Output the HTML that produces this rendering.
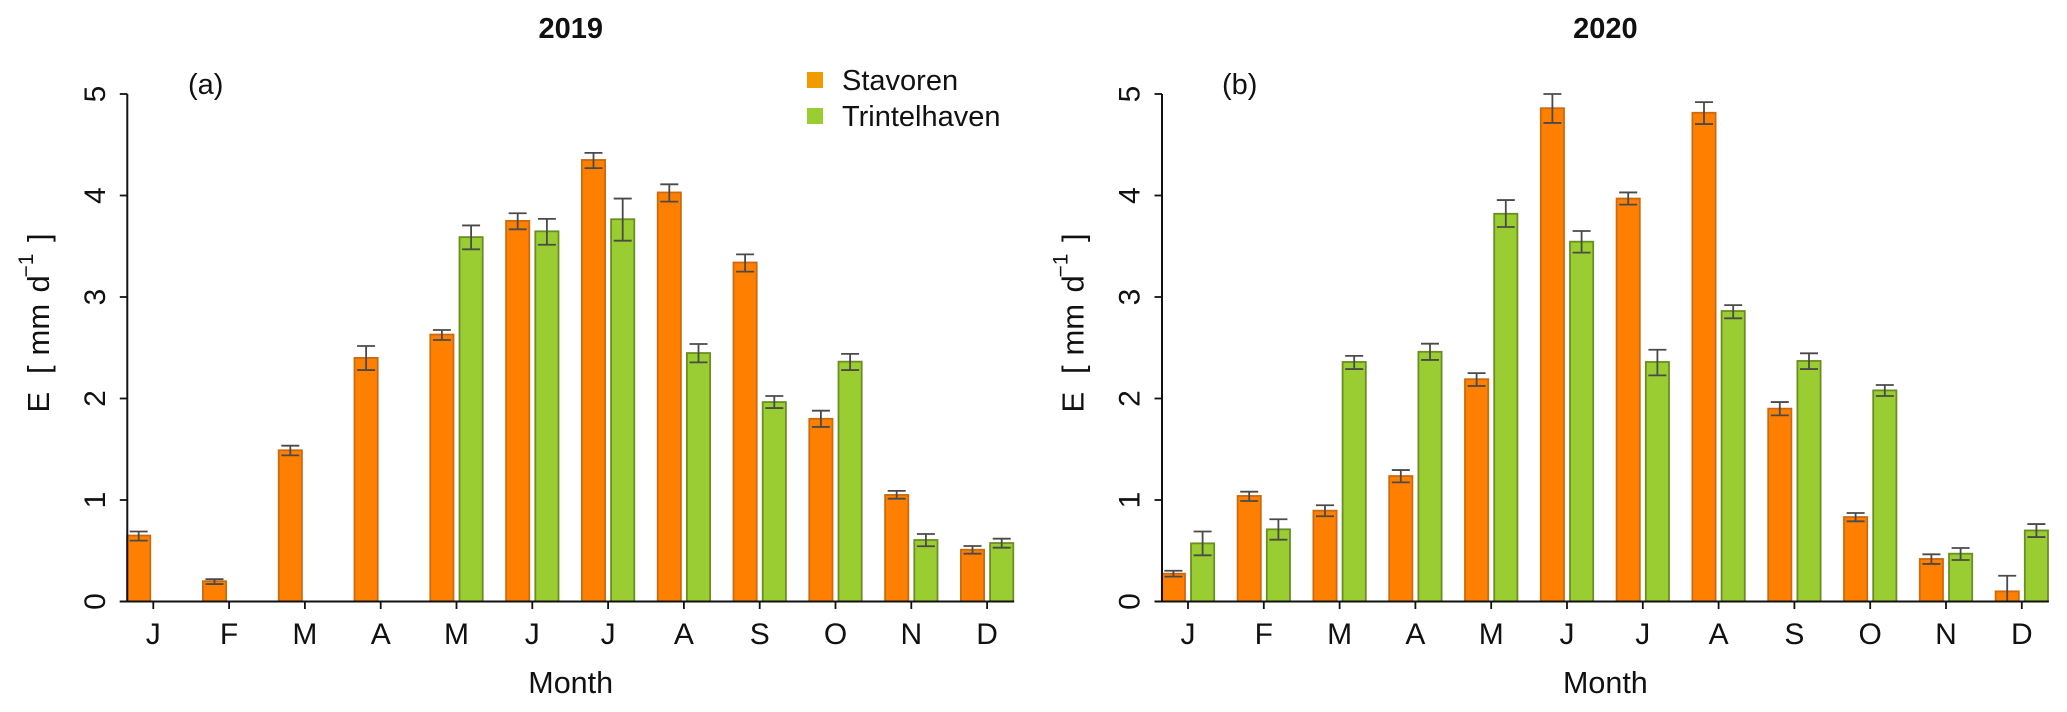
<!DOCTYPE html>
<html>
<head>
<meta charset="utf-8">
<title>Monthly evaporation 2019 and 2020</title>
<style>
html,body{margin:0;padding:0;background:#fff;}
svg{display:block;filter:blur(0.35px);}
text{font-family:"Liberation Sans",Arial,sans-serif;fill:#111;}
</style>
</head>
<body>
<svg id="chart" xmlns="http://www.w3.org/2000/svg" width="2067" height="712" viewBox="0 0 2067 712">
  <rect x="0" y="0" width="2067" height="712" fill="#fff"/>
  <g id="panel-a"></g>
  <g id="panel-b"></g>
  <g>
    <rect x="807" y="72" width="16" height="16" fill="#f29a00"/>
    <text x="842" y="90" font-size="29">Stavoren</text>
    <rect x="807" y="108" width="16" height="16" fill="#9acd32"/>
    <text x="842" y="126" font-size="29">Trintelhaven</text>
  </g>
</svg>
<script>
var months = ['J','F','M','A','M','J','J','A','S','O','N','D'];
var yTicks = [0,1,2,3,4,5];

var stavoren2019 = [0.65,0.20,1.49,2.40,2.63,3.75,4.35,4.03,3.34,1.80,1.05,0.51];
var stavoren2019Upper = [0.69,0.22,1.535,2.517,2.675,3.825,4.42,4.11,3.42,1.88,1.09,0.547];
var stavoren2019Lower = [0.60,0.172,1.44,2.28,2.576,3.667,4.27,3.94,3.25,1.72,1.013,0.471];
var trintelhaven2019 = [null,null,null,null,3.59,3.647,3.766,2.448,1.965,2.363,0.606,0.576];
var trintelhaven2019Upper = [null,null,null,null,3.705,3.77,3.97,2.537,2.025,2.44,0.665,0.619];
var trintelhaven2019Lower = [null,null,null,null,3.47,3.515,3.555,2.356,1.906,2.28,0.544,0.53];

var stavoren2020 = [0.274,1.04,0.895,1.236,2.19,4.86,3.97,4.815,1.90,0.832,0.419,0.10];
var stavoren2020Upper = [0.303,1.082,0.948,1.295,2.25,5.0,4.03,4.92,1.965,0.872,0.465,0.254];
var stavoren2020Lower = [0.245,0.99,0.84,1.174,2.123,4.715,3.91,4.704,1.834,0.79,0.37,0];
var trintelhaven2020 = [0.573,0.711,2.36,2.46,3.82,3.545,2.36,2.862,2.37,2.08,0.471,0.70];
var trintelhaven2020Upper = [0.69,0.81,2.42,2.54,3.955,3.65,2.48,2.92,2.445,2.133,0.527,0.763];
var trintelhaven2020Lower = [0.455,0.609,2.29,2.38,3.69,3.437,2.228,2.79,2.29,2.025,0.409,0.635];

var SVGNS = 'http://www.w3.org/2000/svg';
var AXIS = '#111';
var plotLeft = 127.3, firstTick = 153.3, monthStep = 75.8, barOffset = 14.6, barWidth = 23.2, capHalf = 9;
var yZero = 601.5, yUnit = 101.5;

function yScale(v) { return yZero - yUnit * v; }
function xScale(i, dx) { return firstTick + dx + monthStep * i; }

function make(parent, tag, attrs, name, text) {
  var el = document.createElementNS(SVGNS, tag);
  for (var k in attrs) { el.setAttribute(k, attrs[k]); }
  
  
  if (text !== undefined) { el.textContent = text; }
  parent.appendChild(el);
  return el;
}

function drawBars(g, dx, offset, vals, fill, stroke, series) {
  for (var i = 0; i < vals.length; i++) {
    if (vals[i] === null) { continue; }
    var cx = xScale(i, dx) + offset;
    var top = yScale(vals[i]);
    make(g, 'rect', {x: cx - barWidth / 2, y: top, width: barWidth, height: yZero - top, fill: fill, stroke: stroke, 'stroke-width': 1.8}, 'bar-' + series + '-' + (i + 1));
  }
}

function drawErrors(g, dx, offset, up, low, series) {
  for (var i = 0; i < up.length; i++) {
    if (up[i] === null) { continue; }
    var cx = xScale(i, dx) + offset;
    var yu = yScale(up[i]), yl = yScale(low[i]);
    var d = 'M' + (cx - capHalf) + ' ' + yu + 'H' + (cx + capHalf) + 'M' + cx + ' ' + yu + 'V' + yl + 'M' + (cx - capHalf) + ' ' + yl + 'H' + (cx + capHalf);
    make(g, 'path', {d: d, fill: 'none', stroke: '#4a4a4a', 'stroke-width': 1.8}, 'error-bar-' + series + '-' + (i + 1));
  }
}

function rotatedText(g, x, y, size, str, name) {
  return make(g, 'text', {x: x, y: y, 'font-size': size, transform: 'rotate(-90 ' + x + ' ' + y + ')'}, name, str);
}

function drawPanel(id, dx, title, tag, tagX, sVals, sUp, sLow, tVals, tUp, tLow) {
  var g = document.getElementById(id);
  drawBars(g, dx, -barOffset, sVals, '#ff8000', '#cc6a10', 'stavoren');
  drawBars(g, dx, barOffset, tVals, '#9acd32', '#6b8e23', 'trintelhaven');
  drawErrors(g, dx, -barOffset, sUp, sLow, 'stavoren');
  drawErrors(g, dx, barOffset, tUp, tLow, 'trintelhaven');

  var axisLeft = plotLeft + dx;
  var xEnd = xScale(months.length - 1, dx) + 27;
  make(g, 'line', {x1: axisLeft, x2: axisLeft, y1: yScale(yTicks[yTicks.length - 1]), y2: yZero, stroke: AXIS, 'stroke-width': 2}, 'y-axis-line');
  make(g, 'line', {x1: axisLeft - 7.5, x2: xEnd, y1: yZero, y2: yZero, stroke: AXIS, 'stroke-width': 2}, 'x-axis-line');

  yTicks.forEach(function (t) {
    var y = yScale(t);
    make(g, 'line', {x1: axisLeft - 7.5, x2: axisLeft, y1: y, y2: y, stroke: AXIS, 'stroke-width': 1.8}, 'y-tick');
    var label = rotatedText(g, 105 + dx, y, 30, String(t), 'y-tick-label');
    label.setAttribute('text-anchor', 'middle');
  });

  months.forEach(function (m, i) {
    var x = xScale(i, dx);
    make(g, 'line', {x1: x, x2: x, y1: yZero, y2: yZero + 7.5, stroke: AXIS, 'stroke-width': 1.8}, 'x-tick');
    make(g, 'text', {x: x, y: 644, 'font-size': 30, 'text-anchor': 'middle'}, 'x-tick-label', m);
  });

  make(g, 'text', {x: 570.7 + dx, y: 693, 'font-size': 30.5, 'text-anchor': 'middle'}, 'x-axis-title', 'Month');
  make(g, 'text', {x: 570.7 + dx, y: 38, 'font-size': 29, 'font-weight': 'bold', 'text-anchor': 'middle'}, 'panel-title', title);
  make(g, 'text', {x: tagX, y: 94, 'font-size': 29}, 'panel-tag', tag);

  rotatedText(g, 49 + dx, 412.5, 31, 'E', 'y-axis-title-variable');
  rotatedText(g, 49 + dx, 374, 31, '[', 'y-axis-title-open-bracket');
  rotatedText(g, 49 + dx, 355.5, 31, 'mm', 'y-axis-title-unit-mm');
  rotatedText(g, 49 + dx, 292.5, 31, 'd', 'y-axis-title-unit-d');
  rotatedText(g, 33 + dx, 277.5, 21, '\u22121', 'y-axis-title-exponent');
  rotatedText(g, 49 + dx, 242, 31, ']', 'y-axis-title-close-bracket');
}

drawPanel('panel-a', 0, '2019', '(a)', 188, stavoren2019, stavoren2019Upper, stavoren2019Lower, trintelhaven2019, trintelhaven2019Upper, trintelhaven2019Lower);
drawPanel('panel-b', 1034.7, '2020', '(b)', 1222, stavoren2020, stavoren2020Upper, stavoren2020Lower, trintelhaven2020, trintelhaven2020Upper, trintelhaven2020Lower);
</script>
</body>
</html>
